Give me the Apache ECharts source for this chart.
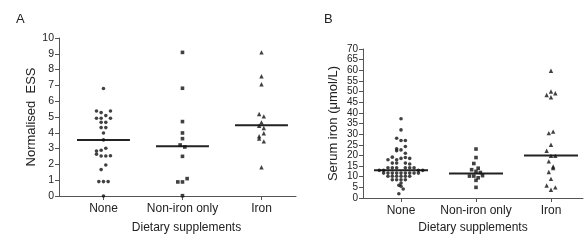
<!DOCTYPE html>
<html>
<head>
<meta charset="utf-8">
<script src="https://cdn.jsdelivr.net/npm/echarts@6/dist/echarts.min.js"></script>
<style>
html, body { margin: 0; padding: 0; background: #fff; }
#chart { width: 585px; height: 241px; }
</style>
</head>
<body>
<div id="chart"></div>
<script>
var groups = ['None', 'Non-iron only', 'Iron'];

// Panel A - normalised ESS. "slot" = sideways position of the dot in its swarm
var essNone      = [6.8, 5.38, 5.28, 5.38, 5.09, 4.92, 4.92, 4.92, 4.66, 4.66, 4.33, 4.33, 3.99,
                    3.55, 3.02, 2.85, 2.9, 2.65, 2.53, 2.53, 2.55, 1.96, 1.67, 0.91, 0.91, 0.91, 0];
var essNoneSlot  = [0, -1.5, -0.5, 1.5, 0.5, -1.5, -0.5, 1.5, -0.5, 0.5, -0.5, 0.5, 0,
                    0, 0.5, -1.5, -0.5, -1.5, -0.5, 0.5, 1.5, 0.5, -0.5, -1, 0, 1, 0];
var essNonIron     = [9.09, 6.82, 4.71, 3.99, 3.63, 3.23, 3.1, 2.51, 0.89, 0.89, 1.1, 0.02];
var essNonIronSlot = [0, 0, 0, 0, 0, -0.5, 0.5, 0, -1, 0, 1, 0];
var essIron      = [9.09, 7.58, 7.07, 5.19, 5.04, 4.66, 4.45, 4.3, 3.97, 3.78, 3.63, 3.46, 1.82];
var essIronSlot  = [0, 0, 0, -0.5, 0.5, 0, -0.5, 0.5, 0.5, -0.5, -0.5, 0.5, 0];
var essMedians   = [3.55, 3.15, 4.47];

// Panel B - serum iron (umol/L)
var feNone = [37.2, 32.0, 28.1, 27.0, 27.0, 24.2, 23.1, 22.2, 22.6, 21.0,
              19.2, 18.6, 18.6, 18.0, 18.0, 19.0, 16.4, 16.4, 16.4, 16.0,
              14.2, 14.2, 14.2, 14.2, 14.2, 14.2,
              13.0, 13.0, 13.0, 13.0,
              11.7, 11.7, 11.7, 11.7, 11.7, 11.7, 11.7, 11.7, 11.7,
              10.2, 10.2, 10.2, 10.2, 10.2, 10.2,
              8.6, 8.6, 8.6, 8.6, 7.0, 6.0, 5.5, 4.2, 2.0];
var feNoneSlot = [0, 0, -1, 0, 1, 1, -1, -1, 0, 1,
                  -2, 0, 2, -3, -1, 1, -2, -1, 1, 2,
                  -3, -2, -1, 1, 2, 3,
                  -5, -4, 4, 5,
                  -4, -3, -2, -1, 0, 1, 2, 3, 4,
                  -3, -2, -1, 0, 1, 2,
                  -2, -1, 0, 1, 0, -0.5, 0, 0.5, -0.5];
var feNonIron     = [23.0, 19.0, 16.2, 14.0, 13.3, 12.5, 12.0, 10.3, 10.3, 10.5, 9.5, 8.3, 5.0];
var feNonIronSlot = [0, 0, -0.5, 0.5, -1, 0, 1, -1.5, -0.5, 1.5, 0.5, 0, 0];
var feIron     = [59.8, 50.0, 48.4, 49.2, 47.3, 30.5, 31.2, 25.0, 22.2, 19.8, 19.8,
                  17.2, 14.8, 14.1, 12.2, 9.0, 5.9, 3.9, 5.0];
var feIronSlot = [0, 0, -1, 1, 0, -0.5, 0.5, 0, -1, 0, 1, -0.5, 0.5, 0.5, -0.5, 0, -1, 0, 1];
var feMedians  = [13.0, 11.5, 20.0];

var symbols = ['circle', 'rect', 'triangle'];
var symbolSizes = [3.6, 3.6, 4.4];
var font = 'Liberation Sans, Arial, sans-serif';
var ink = '#111';
var axisColor = '#555';

function swarm(values, slots, groupIndex, slotWidth) {
    return values.map(function (v, i) {
        return [groupIndex + slots[i] * slotWidth, v];
    });
}

function buildPanel(gridIndex, sets, medians, slotWidth, halfLine) {
    var list = [];
    sets.forEach(function (s, g) {
        list.push({
            type: 'scatter',
            xAxisIndex: gridIndex,
            yAxisIndex: gridIndex,
            symbol: symbols[g],
            symbolSize: symbolSizes[g],
            itemStyle: { color: ink },
            data: swarm(s[0], s[1], g, slotWidth),
            z: 3
        });
        list.push({
            type: 'line',
            xAxisIndex: gridIndex,
            yAxisIndex: gridIndex,
            symbol: 'none',
            lineStyle: { color: '#222', width: 2 },
            data: [[g - halfLine, medians[g]], [g + halfLine, medians[g]]],
            z: 2
        });
    });
    return list;
}

function xAxisFor(gridIndex, min, max, nameGap, namePad) {
    return {
        type: 'value',
        gridIndex: gridIndex,
        min: min,
        max: max,
        splitLine: { show: false },
        axisLine: { onZero: false, lineStyle: { color: axisColor, width: 1 } },
        axisTick: { customValues: [0, 1, 2], length: 4, lineStyle: { color: axisColor } },
        axisLabel: {
            customValues: [0, 1, 2],
            formatter: function (v) { return groups[Math.round(v)]; },
            fontFamily: font, fontSize: 12, color: '#222', margin: 7
        },
        name: 'Dietary supplements',
        nameLocation: 'middle',
        nameGap: nameGap,
        nameTextStyle: { fontFamily: font, fontSize: 12, color: '#222', padding: namePad }
    };
}

function yAxisFor(gridIndex, max, interval, name, nameGap, labelSize) {
    return {
        type: 'value',
        gridIndex: gridIndex,
        min: 0,
        max: max,
        interval: interval,
        splitLine: { show: false },
        axisLine: { show: true, onZero: false, lineStyle: { color: axisColor, width: 1 } },
        axisTick: { show: true, length: 4, lineStyle: { color: axisColor } },
        axisLabel: {
            fontFamily: font, fontSize: labelSize, color: '#222', margin: 5,
            showMinLabel: true, showMaxLabel: true, hideOverlap: false
        },
        name: name,
        nameLocation: 'middle',
        nameGap: nameGap,
        nameTextStyle: { fontFamily: font, fontSize: 13, color: '#222' }
    };
}

var chart = echarts.init(document.getElementById('chart'), null, { renderer: 'canvas' });

var option = {
    animation: false,
    backgroundColor: '#fff',
    title: [
        { text: 'A', left: 11, top: 8, textStyle: { fontFamily: font, fontSize: 13, fontWeight: 'normal', color: '#222' } },
        { text: 'B', left: 319, top: 8, textStyle: { fontFamily: font, fontSize: 13, fontWeight: 'normal', color: '#222' } }
    ],
    grid: [
        { left: 59, top: 38, width: 237, height: 158 },
        { left: 363, top: 49, width: 220, height: 149 }
    ],
    xAxis: [
        xAxisFor(0, -0.563, 2.437, 26, [0, 0, 0, 18]),
        xAxisFor(1, -0.507, 2.427, 17, [0, 0, 0, 0])
    ],
    yAxis: [
        yAxisFor(0, 10, 1, 'Normalised  ESS', 20, 10.5),
        yAxisFor(1, 70, 5, 'Serum iron (\u03bcmol/L)', 23, 10)
    ],
    series: [].concat(
        buildPanel(0, [[essNone, essNoneSlot], [essNonIron, essNonIronSlot], [essIron, essIronSlot]],
                   essMedians, 0.059, 0.335),
        buildPanel(1, [[feNone, feNoneSlot], [feNonIron, feNonIronSlot], [feIron, feIronSlot]],
                   feMedians, 0.058, 0.36)
    )
};

chart.setOption(option);
</script>
</body>
</html>
